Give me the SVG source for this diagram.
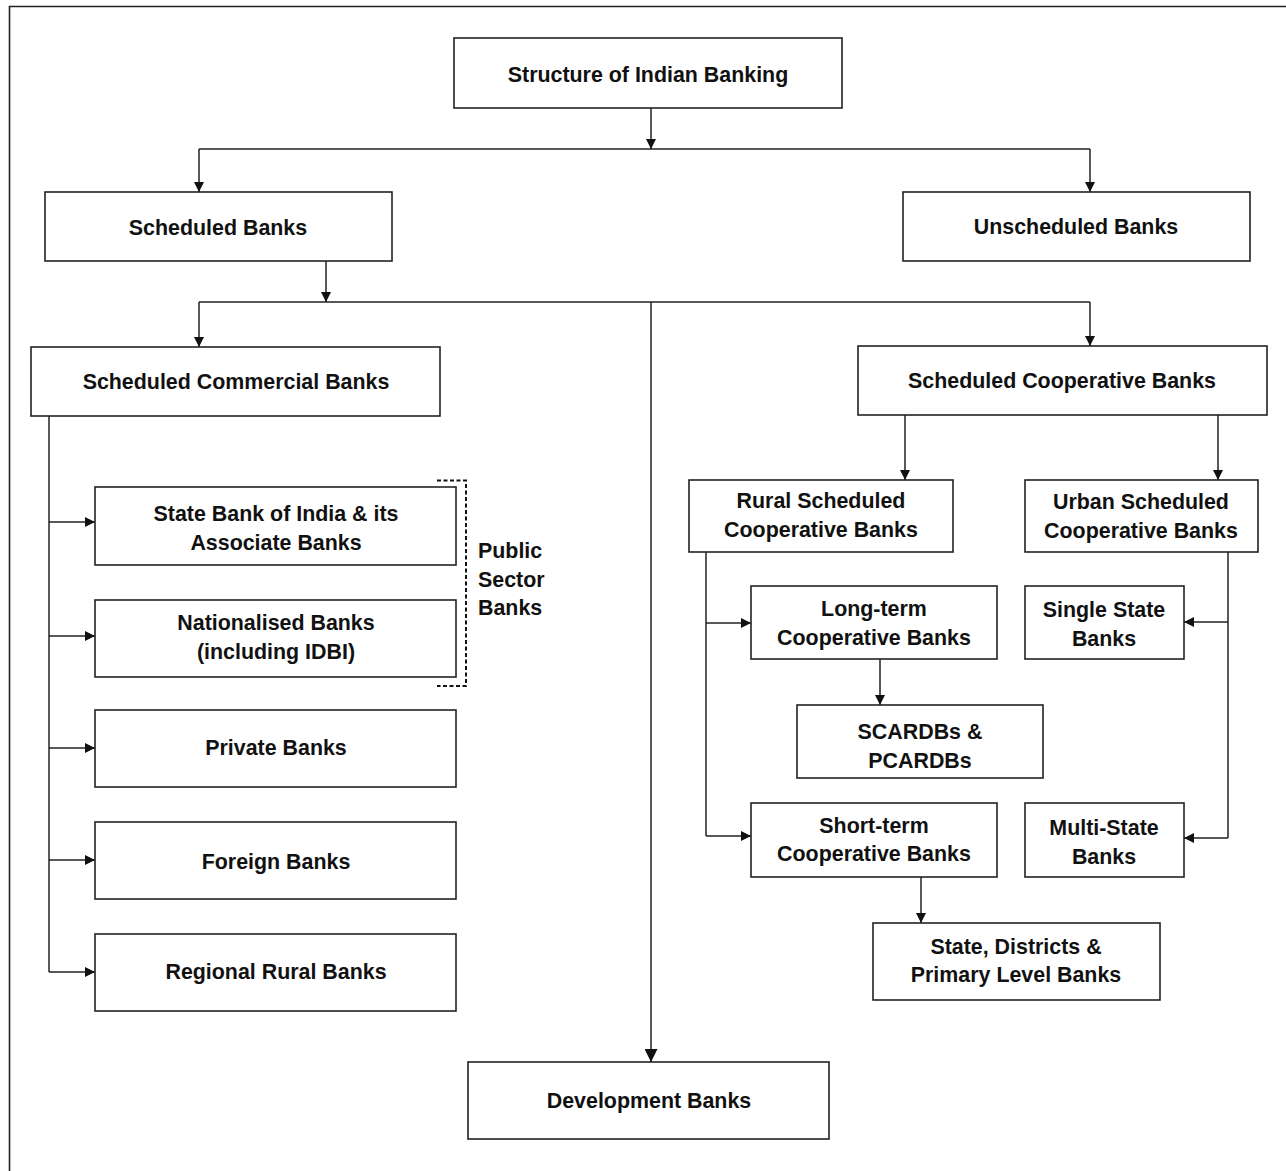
<svg xmlns="http://www.w3.org/2000/svg" width="1286" height="1171" viewBox="0 0 1286 1171">
  <style>
    .box { fill: #fff; stroke: #222; stroke-width: 1.6; }
    .lbl { font-family: "Liberation Sans", Arial, Helvetica, sans-serif; font-weight: bold; font-size: 21.4px; fill: #111; text-anchor: middle; }
    .side { font-family: "Liberation Sans", Arial, Helvetica, sans-serif; font-weight: bold; font-size: 21.4px; fill: #111; }
    .wire { fill: none; stroke: #222; stroke-width: 1.5; }
    .wire-a { fill: none; stroke: #222; stroke-width: 1.5; marker-end: url(#arrow); }
    .wire-big { fill: none; stroke: #222; stroke-width: 1.5; marker-end: url(#arrowBig); }
  </style>
  <defs>
    <marker id="arrow" markerUnits="userSpaceOnUse" viewBox="0 0 10 10" refX="10" refY="5" markerWidth="12" markerHeight="10" orient="auto">
      <path d="M0,0 L10,5 L0,10 Z" fill="#111"/>
    </marker>
    <marker id="arrowBig" markerUnits="userSpaceOnUse" viewBox="0 0 10 10" refX="10" refY="5" markerWidth="15" markerHeight="13" orient="auto">
      <path d="M0,0 L10,5 L0,10 Z" fill="#111"/>
    </marker>
  </defs>

  <rect width="1286" height="1171" fill="#fff"/>
  <!-- outer frame (open to the right and bottom) -->
  <path d="M1286,6.5 H9.5 V1171" fill="none" stroke="#222" stroke-width="1.6"/>

  <!-- connectors -->
  <g id="connectors">
    <path class="wire-a" d="M651,108 V149"/>
    <path class="wire" d="M199,149 H1090"/>
    <path class="wire-a" d="M199,149 V192"/>
    <path class="wire-a" d="M1090,149 V192"/>

    <path class="wire-a" d="M326,261 V302"/>
    <path class="wire" d="M199,302 H1090"/>
    <path class="wire-a" d="M199,302 V347"/>
    <path class="wire-a" d="M1090,302 V346"/>
    <path class="wire-big" d="M651,302 V1062"/>

    <path class="wire" d="M49,416 V972"/>
    <path class="wire-a" d="M49,522 H95"/>
    <path class="wire-a" d="M49,636 H95"/>
    <path class="wire-a" d="M49,748 H95"/>
    <path class="wire-a" d="M49,860 H95"/>
    <path class="wire-a" d="M49,972 H95"/>

    <path class="wire-a" d="M905,415 V480"/>
    <path class="wire-a" d="M1218,415 V480"/>

    <path class="wire" d="M706,552 V836"/>
    <path class="wire-a" d="M706,623 H751"/>
    <path class="wire-a" d="M706,836 H751"/>

    <path class="wire" d="M1228,552 V838"/>
    <path class="wire-a" d="M1228,622 H1184"/>
    <path class="wire-a" d="M1228,838 H1184"/>

    <path class="wire-a" d="M880,659 V705"/>
    <path class="wire-a" d="M921,877 V923"/>

    <!-- public sector bracket -->
    <path d="M437,480.5 H466 V686 H437" fill="none" stroke="#111" stroke-width="2" stroke-dasharray="4,2.5"/>
  </g>

  <g id="n-structure"><rect class="box" x="454" y="38" width="388" height="70"/><text class="lbl" x="648" y="82">Structure of Indian Banking</text></g>
  <g id="n-scheduled"><rect class="box" x="45" y="192" width="347" height="69"/><text class="lbl" x="218" y="235">Scheduled Banks</text></g>
  <g id="n-unscheduled"><rect class="box" x="903" y="192" width="347" height="69"/><text class="lbl" x="1076" y="234">Unscheduled Banks</text></g>
  <g id="n-commercial"><rect class="box" x="31" y="347" width="409" height="69"/><text class="lbl" x="236" y="389">Scheduled Commercial Banks</text></g>
  <g id="n-cooperative"><rect class="box" x="858" y="346" width="409" height="69"/><text class="lbl" x="1062" y="388">Scheduled Cooperative Banks</text></g>

  <g id="n-sbi"><rect class="box" x="95" y="487" width="361" height="78"/><text class="lbl" x="276" y="521">State Bank of India &amp; its</text><text class="lbl" x="276" y="550">Associate Banks</text></g>
  <g id="n-nationalised"><rect class="box" x="95" y="600" width="361" height="77"/><text class="lbl" x="276" y="630">Nationalised Banks</text><text class="lbl" x="276" y="659">(including IDBI)</text></g>
  <g id="n-private"><rect class="box" x="95" y="710" width="361" height="77"/><text class="lbl" x="276" y="755">Private Banks</text></g>
  <g id="n-foreign"><rect class="box" x="95" y="822" width="361" height="77"/><text class="lbl" x="276" y="869">Foreign Banks</text></g>
  <g id="n-rrb"><rect class="box" x="95" y="934" width="361" height="77"/><text class="lbl" x="276" y="979">Regional Rural Banks</text></g>
  <g id="n-public-label"><text class="side" x="478" y="558">Public</text><text class="side" x="478" y="587">Sector</text><text class="side" x="478" y="615">Banks</text></g>

  <g id="n-rural"><rect class="box" x="689" y="480" width="264" height="72"/><text class="lbl" x="821" y="508">Rural Scheduled</text><text class="lbl" x="821" y="537">Cooperative Banks</text></g>
  <g id="n-urban"><rect class="box" x="1025" y="480" width="233" height="72"/><text class="lbl" x="1141" y="509">Urban Scheduled</text><text class="lbl" x="1141" y="538">Cooperative Banks</text></g>
  <g id="n-longterm"><rect class="box" x="751" y="586" width="246" height="73"/><text class="lbl" x="874" y="616">Long-term</text><text class="lbl" x="874" y="645">Cooperative Banks</text></g>
  <g id="n-single"><rect class="box" x="1025" y="586" width="159" height="73"/><text class="lbl" x="1104" y="617">Single State</text><text class="lbl" x="1104" y="646">Banks</text></g>
  <g id="n-scardb"><rect class="box" x="797" y="705" width="246" height="73"/><text class="lbl" x="920" y="739">SCARDBs &amp;</text><text class="lbl" x="920" y="768">PCARDBs</text></g>
  <g id="n-shortterm"><rect class="box" x="751" y="803" width="246" height="74"/><text class="lbl" x="874" y="833">Short-term</text><text class="lbl" x="874" y="861">Cooperative Banks</text></g>
  <g id="n-multi"><rect class="box" x="1025" y="803" width="159" height="74"/><text class="lbl" x="1104" y="835">Multi-State</text><text class="lbl" x="1104" y="864">Banks</text></g>
  <g id="n-state-district"><rect class="box" x="873" y="923" width="287" height="77"/><text class="lbl" x="1016" y="954">State, Districts &amp;</text><text class="lbl" x="1016" y="982">Primary Level Banks</text></g>

  <g id="n-development"><rect class="box" x="468" y="1062" width="361" height="77"/><text class="lbl" x="649" y="1108">Development Banks</text></g>
</svg>
